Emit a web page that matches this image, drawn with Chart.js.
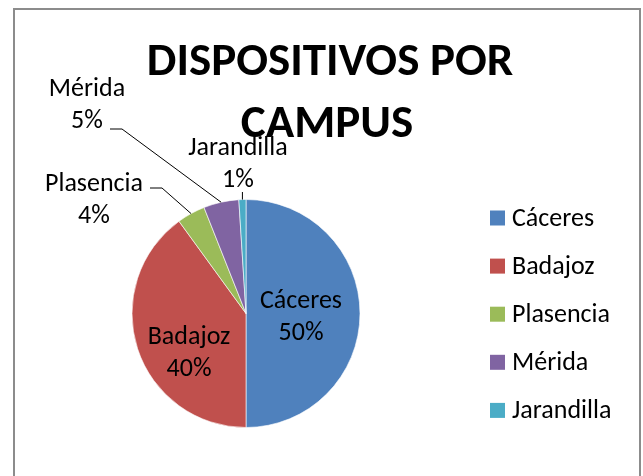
<!DOCTYPE html>
<html><head><meta charset="utf-8">
<script src="https://cdn.jsdelivr.net/npm/chart.js@4/dist/chart.umd.min.js"></script>
<style>html,body{margin:0;padding:0;background:#fff;overflow:hidden}
#wrap{position:relative;width:643px;height:476px}</style>
</head><body><div id="wrap"><canvas id="c" width="643" height="476"></canvas></div>
<script>
const titleLines = ['DISPOSITIVOS POR', 'CAMPUS'];
const categories = ['Cáceres', 'Badajoz', 'Plasencia', 'Mérida', 'Jarandilla'];
const values = [50, 40, 4, 5, 1];
const colors = ['#4F81BD', '#C0504D', '#9BBB59', '#8064A2', '#4BACC6'];

const FONT = 'Carlito, Lato, "Open Sans", sans-serif';
const LABEL_SIZE = 26;
const TITLE_SIZE = 47;

// label layout: text centre x and first baseline (px offsets from pie centre), optional leader
const labelLayout = [
  {dx: 55, by: -5.5},
  {dx: -57, by: 30.5},
  {dx: -152, by: -122.5, leader: {x0: -96, x1: -84, y: -125.5}},
  {dx: -159, by: -217.5, leader: {x0: -136, x1: -124, y: -184.5}},
  {dx: -8, by: -158.5, leader: {vertical: true, y: -121.5}}
];

const deco = {
  id: 'deco',
  afterDraw(chart) {
    const ctx = chart.ctx;
    const meta = chart.getDatasetMeta(0);
    const total = values.reduce((a, b) => a + b, 0);
    ctx.save();
    // frame
    ctx.strokeStyle = '#8c8c8c';
    ctx.lineWidth = 2;
    ctx.strokeRect(14, 9, 626, 490);
    // title
    ctx.fillStyle = '#000';
    ctx.textAlign = 'center';
    ctx.textBaseline = 'alphabetic';
    ctx.font = 'bold ' + TITLE_SIZE + 'px ' + FONT;
    ctx.fillText(titleLines[0], 330, 75);
    ctx.fillText(titleLines[1], 327, 137);
    // data labels
    ctx.font = LABEL_SIZE + 'px ' + FONT;
    meta.data.forEach((arc, i) => {
      const p = arc.getProps(['x', 'y', 'startAngle', 'endAngle', 'outerRadius'], true);
      const L = labelLayout[i];
      const cx = p.x + L.dx;
      const b1 = p.y + L.by;
      ctx.fillStyle = '#000';
      ctx.fillText(categories[i], cx, b1);
      ctx.fillText(Math.round(values[i] / total * 100) + '%', cx, b1 + 32);
      if (L.leader) {
        const mid = (p.startAngle + p.endAngle) / 2;
        const ex = p.x + Math.cos(mid) * p.outerRadius;
        const ey = p.y + Math.sin(mid) * p.outerRadius;
        ctx.strokeStyle = '#000';
        ctx.lineWidth = 1;
        ctx.beginPath();
        if (L.leader.vertical) {
          ctx.moveTo(ex, p.y + L.leader.y);
          ctx.lineTo(ex, ey);
        } else {
          ctx.moveTo(p.x + L.leader.x0, p.y + L.leader.y);
          ctx.lineTo(p.x + L.leader.x1, p.y + L.leader.y);
          ctx.lineTo(ex, ey);
        }
        ctx.stroke();
      }
    });
    // legend
    ctx.textAlign = 'left';
    categories.forEach((c, i) => {
      const cy = 218 + i * 48.1;
      ctx.fillStyle = colors[i];
      ctx.fillRect(490, cy - 7.5, 15, 15);
      ctx.fillStyle = '#000';
      ctx.fillText(c, 512, cy + 8);
    });
    ctx.restore();
  }
};

new Chart(document.getElementById('c'), {
  type: 'pie',
  data: {
    labels: categories,
    datasets: [{
      data: values,
      backgroundColor: colors,
      borderColor: 'rgba(255,255,255,0.6)',
      borderWidth: 1
    }]
  },
  options: {
    responsive: false,
    animation: false,
    layout: {padding: {left: 131, right: 282, top: 199, bottom: 48}},
    plugins: {legend: {display: false}, title: {display: false}, tooltip: {enabled: false}}
  },
  plugins: [deco]
});
</script>
</body></html>
